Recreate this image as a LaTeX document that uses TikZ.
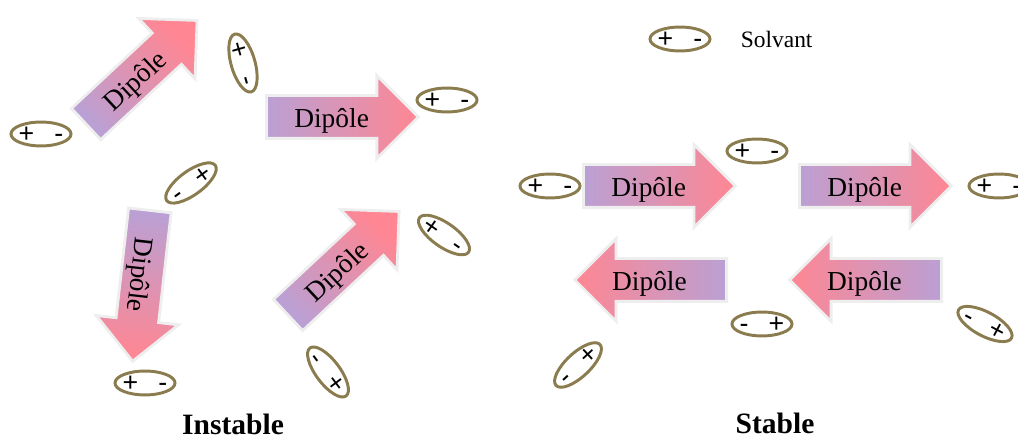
\documentclass[tikz,border=0pt]{standalone}
\usepackage{fontspec}
\setmainfont{Liberation Serif}
\newfontfamily\solvfont{Liberation Sans}
\usetikzlibrary{shapes.arrows,shapes.geometric,positioning}
\definecolor{dipviolet}{RGB}{186,160,212}
\definecolor{diprose}{RGB}{255,134,146}
\definecolor{dipbord}{RGB}{238,238,238}
\definecolor{solvcol}{RGB}{138,124,78}
\newcommand{\plusmoins}{\makebox[0pt]{\raisebox{-0.33em}[0pt][0pt]{+\hspace{0.75em}-}}}
\newcommand{\moinsplus}{\makebox[0pt]{\raisebox{-0.33em}[0pt][0pt]{-\hspace{0.75em}+}}}
\begin{document}
\begin{tikzpicture}[x=0.025cm,y=0.025cm,
    dipole/.style={single arrow,single arrow head extend=14.2pt,minimum height=108pt,
      inner xsep=4pt,inner ysep=0pt,text height=22pt,text depth=6.45pt,
      draw=dipbord,line width=2pt,anchor=tail,font=\fontsize{19.5}{22}\selectfont},
    versdroite/.style={dipole,left color=dipviolet,right color=diprose,
      rotate=#1,shading angle=90+#1},
    versdroite/.default=0,
    versgauche/.style={dipole,shape border rotate=180,left color=diprose,right color=dipviolet,
      text width=70pt,align=left},
    solvant/.style={ellipse,draw=solvcol,line width=2.1pt,minimum width=42.7pt,
      minimum height=17pt,inner sep=0pt,font=\solvfont\fontsize{19}{20}\selectfont},
    titre/.style={anchor=base,font=\bfseries\fontsize{21}{24}\selectfont}]
  \useasboundingbox (0,0) rectangle (1018,438);

  % instable
  \node[versdroite=43] (dipA) at (85,313) {Dipôle};
  \node[versdroite] (dipB) at (265,321) {Dipôle};
  \node[versdroite=-96.5] (dipC) at (150,229) {Dipôle};
  \node[versdroite=43] (dipD) at (287,122) {Dipôle};

  % stable
  \node[versdroite] (dipE) at (582,252) {Dipôle};
  \node[versdroite] (dipF) at (798,252) {Dipôle};
  \node[versgauche] (dipG) at (728,158) {Dipôle};
  \node[versgauche] (dipH) at (943,158) {Dipôle};

  % solvant
  \foreach \x/\y/\a/\t [count=\i] in {41/304/0/\plusmoins, 243/375/-74/\plusmoins,
      447/338/0/\plusmoins, 191/255/36/\moinsplus, 145/55/0/\plusmoins,
      444/203/-35/\plusmoins, 328/66/-53/\moinsplus, 550/252/0/\plusmoins,
      757/287/0/\plusmoins, 999/252/0/\plusmoins, 762/114/0/\moinsplus,
      985/114/-28/\moinsplus, 578/73/43/\moinsplus}{
    \node[solvant,rotate=\a] (solv\i) at (\x,\y) {\t};
  }

  \node[solvant] (solvLeg) at (680,399) {\plusmoins};
  \node[right=20.6pt of solvLeg,inner sep=0pt,font=\fontsize{16.7}{20}\selectfont] (legende) {Solvant};

  \node[titre] (instable) at (233,3) {Instable};
  \node[titre] (stable) at (775,4) {Stable};
\end{tikzpicture}
\end{document}
